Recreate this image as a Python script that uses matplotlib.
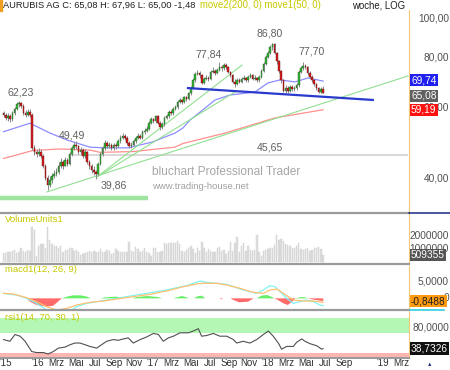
import matplotlib
matplotlib.use("Agg")
import matplotlib.pyplot as plt
import pandas as pd
from matplotlib.transforms import blended_transform_factory
from matplotlib.patches import Rectangle
from matplotlib.lines import Line2D

plt.rcParams['font.family'] = ['Liberation Sans', 'DejaVu Sans']

# ---------------- data (weekly, week 0 = 2015-09-14) ----------------
start_date = "2015-09-14"
opens = [58.0, 57.5,
         56.5, 57, 56, 58, 59.5, 61, 61.5, 60.5, 58, 57.5,
         58.5, 57.5, 47.5, 46.5, 46, 46.5, 45.5, 43, 40, 38.5,
         39.5, 40.5, 41, 41.5, 43, 44, 43, 44.5, 43.5, 46,
         47.5, 48.5, 48, 46.5, 47, 45.5, 46.5, 44, 43, 42,
         41.5, 41, 43.5, 46, 47.5, 49, 48, 48.5, 47.5, 48.5,
         48, 49.5, 50.5, 51, 50.5, 49, 48, 48.5, 49.5, 50.5,
         51, 50.5, 52, 52.5, 53, 55, 56, 55.5, 57, 55,
         53.5, 54.5, 56.5, 57, 58.5, 58, 59.5, 60, 62, 62.5,
         62, 63.5, 63, 65, 67, 70, 72.5, 73, 72, 69,
         70.5, 71, 70.5, 73.5, 74, 73, 74.5, 75.5, 75, 76.5,
         75.5, 73.5, 72, 69.5, 68.5, 70, 69.5, 70.5, 71, 70,
         71.5, 72, 70.5, 71, 70, 71.5, 74, 77, 80, 82,
         84.5, 86, 82, 78, 74, 70, 66, 67, 66, 67.5,
         66.5, 67, 68, 73.5, 75, 76, 75.5, 73, 71.5, 70,
         68.5, 67, 65.5, 66.5]
closes = [57.5, 56.5,
          57, 56, 58, 59.5, 61, 61.5, 60.5, 58, 57.5, 58.5,
          57.5, 47.5, 46.5, 46, 46.5, 45.5, 43, 40, 38.5, 39.5,
          40.5, 41, 41.5, 43, 44, 43, 44.5, 43.5, 46, 47.5,
          48.5, 48, 46.5, 47, 45.5, 46.5, 44, 43, 42, 41.5,
          41, 43.5, 46, 47.5, 49, 48, 48.5, 47.5, 48.5, 48,
          49.5, 50.5, 51, 50.5, 49, 48, 48.5, 49.5, 50.5, 51,
          50.5, 52, 52.5, 53, 55, 56, 55.5, 57, 55, 53.5,
          54.5, 56.5, 57, 58.5, 58, 59.5, 60, 62, 62.5, 62,
          63.5, 63, 65, 67, 70, 72.5, 73, 72, 69, 70.5,
          71, 70.5, 73.5, 74, 73, 74.5, 75.5, 75, 76.5, 75.5,
          73.5, 72, 69.5, 68.5, 70, 69.5, 70.5, 71, 70, 71.5,
          72, 70.5, 71, 70, 71.5, 74, 77, 80, 82, 84.5,
          86, 82, 78, 74, 70, 66, 67, 66, 67.5, 66.5,
          67, 68, 73.5, 75, 76, 75.5, 73, 71.5, 70, 68.5,
          67, 65.5, 66.5, 65.08]
highs = [58.8, 58.0,
         58.0, 57.8, 58.8, 60.2, 61.8, 62.23, 62.0, 61.0, 59.0, 59.3,
         59.5, 58.0, 48.5, 47.3, 47.5, 47.2, 46.0, 43.5, 40.8, 40.5,
         41.2, 42.0, 42.5, 43.8, 44.8, 44.5, 45.2, 45.0, 46.5, 48.2,
         49.2, 49.49, 48.5, 47.8, 47.5, 47.2, 46.8, 44.5, 43.5, 42.8,
         42.0, 44.0, 46.5, 48.2, 49.8, 49.5, 49.2, 49.0, 49.0, 49.0,
         50.2, 51.3, 51.8, 51.5, 51.0, 49.5, 49.2, 50.0, 51.0, 51.8,
         51.5, 52.8, 53.2, 53.8, 55.6, 56.8, 56.5, 57.6, 57.3, 55.5,
         55.2, 57.0, 57.8, 59.2, 59.0, 60.2, 60.8, 62.6, 63.3, 63.0,
         64.2, 64.0, 65.6, 67.8, 70.8, 73.5, 74.5, 73.8, 72.5, 71.5,
         72.0, 71.8, 74.5, 75.5, 74.8, 75.3, 77.84, 76.5, 77.5, 77.2,
         76.0, 74.0, 72.5, 70.5, 70.8, 71.0, 71.5, 72.0, 71.5, 72.3,
         73.0, 72.5, 72.0, 71.5, 72.2, 74.8, 77.8, 80.8, 83.0, 85.5,
         86.8, 86.5, 82.5, 78.5, 74.5, 70.5, 68.0, 67.8, 68.3, 68.0,
         67.8, 68.8, 74.2, 76.0, 77.7, 76.8, 76.0, 73.8, 72.0, 70.5,
         69.0, 67.5, 67.3, 67.96]
lows = [56.8, 55.8,
        55.5, 55.2, 55.6, 57.5, 59.0, 60.3, 59.8, 57.5, 56.8, 57.0,
        56.8, 47.0, 45.8, 45.2, 45.5, 44.8, 42.5, 39.5, 37.4, 38.0,
        39.0, 40.0, 40.6, 41.0, 42.5, 42.3, 42.8, 42.8, 43.2, 45.5,
        47.0, 47.3, 46.0, 46.0, 45.0, 45.0, 43.5, 42.3, 41.3, 40.8,
        39.86, 40.8, 43.2, 45.5, 47.0, 47.5, 47.5, 47.0, 47.0, 47.3,
        47.8, 49.0, 50.0, 49.8, 48.5, 47.5, 47.5, 48.0, 49.0, 50.2,
        50.0, 50.2, 51.5, 52.0, 52.8, 54.5, 54.8, 55.0, 54.5, 52.8,
        53.0, 54.0, 56.0, 56.6, 57.3, 57.5, 59.0, 59.5, 61.5, 61.2,
        61.5, 62.3, 62.5, 64.5, 66.5, 69.5, 72.0, 71.0, 68.5, 68.5,
        70.0, 69.8, 70.0, 73.0, 72.0, 72.5, 74.0, 74.0, 74.5, 74.8,
        73.0, 71.3, 68.8, 67.5, 68.0, 68.8, 69.0, 70.0, 69.3, 69.5,
        71.0, 70.0, 70.0, 69.3, 69.5, 71.0, 73.5, 76.5, 79.5, 81.5,
        83.5, 81.5, 77.0, 73.0, 69.0, 65.5, 65.3, 65.2, 65.5, 65.8,
        66.0, 66.3, 67.5, 73.0, 74.5, 74.8, 72.3, 71.0, 69.3, 67.8,
        66.3, 65.0, 65.0, 65.0]
volume_mio = [0.64, 0.64, 0.77, 0.77, 0.82, 0.92, 0.64, 0.77, 1.03, 0.82,
              0.72, 0.87, 0.82, 2.69, 2.44, 0.46, 1.23, 1.36, 1.33, 1.03,
              2.69, 1.67, 1.33, 1.21, 1.23, 1.08, 1.21, 0.77, 0.90, 0.92,
              1.03, 1.08, 0.82, 0.90, 0.72, 0.51, 0.62, 0.64, 0.77, 0.82,
              0.77, 0.82, 0.77, 0.77, 0.97, 0.77, 0.77, 0.90, 0.79, 0.62,
              0.64, 0.97, 0.82, 0.77, 0.72, 0.77, 0.72, 1.49, 0.79, 0.77,
              1.15, 0.97, 0.72, 0.82, 1.05, 0.77, 0.64, 0.44, 1.03, 1.03,
              0.77, 0.72, 0.82, 1.41, 1.36, 1.41, 1.41, 1.46, 1.41, 1.59,
              1.33, 0.82, 0.77, 0.87, 1.03, 1.21, 0.97, 0.64, 1.03, 0.82,
              1.49, 1.03, 0.77, 0.97, 0.82, 0.77, 0.72, 1.03, 1.13, 0.82,
              0.90, 0.62, 0.82, 1.54, 0.82, 1.41, 1.92, 0.77, 1.23, 1.41,
              0.82, 1.23, 0.92, 0.82, 0.87, 2.05, 0.77, 0.46, 0.82, 0.90,
              1.00, 1.03, 1.08, 1.28, 2.05, 1.67, 1.74, 1.59, 1.33, 1.31,
              1.23, 1.08, 1.03, 1.18, 1.41, 0.97, 0.92, 0.95, 1.03, 0.82,
              0.92, 1.08, 1.08, 1.13, 0.97, 0.509]

# moving averages (week, value)
ma50_weeks = [0, 12.0, 21.1, 28.8, 39.2, 46.1, 56.5, 67.4, 77.8, 81.4, 84.6, 89.2,
              96.0, 102.8, 114.1, 120.0, 125.5, 132.3, 138.2, 145]
ma50_vals = [52.2, 54.8, 51.8, 49.8, 47.8, 47.6, 47.6, 49.2, 51.8, 53.3, 55.8, 58.4,
             62.6, 64.4, 65.5, 69.0, 70.2, 69.4, 71.0, 69.74]
ma200_weeks = [0, 13.4, 25.6, 39.2, 43.8, 58.8, 77.8, 81.4, 100.5, 123.2, 145]
ma200_vals = [44.8, 46.9, 47.3, 47.0, 46.4, 46.6, 47.8, 48.8, 51.8, 56.5, 59.19]

# trend lines: (week0, price0, week1, price1)
green_lines = [(19.7, 37.0, 183.5, 71.8),
               (42.4, 40.3, 108.2, 76.4),
               (42.4, 40.3, 105.0, 65.5)]
blue_line = (83.7, 67.0, 167.6, 62.6)
support_band = (-1.6, 65.6, 35.8)
level_line = (31.0, 183.0, 45.65)

# price annotations (week, price, text)
annotations = [(7.9, 65.5, "62,23"), (93.2, 81.4, "77,84"), (120.9, 91.3, "86,80"),
               (140.0, 82.8, "77,70"), (31.1, 51.2, "49,49"), (50.1, 38.3, "39,86"),
               (120.9, 47.6, "45,65")]

# MACD
macd_weeks = [0, 2.9, 6.0, 10.5, 15.0, 19.6, 22.6, 28.7, 33.2, 37.7, 42.3, 46.8, 51.4,
              55.9, 60.4, 65.0, 69.5, 74.0, 78.6, 83.1, 86.1, 89.2, 92.2, 96.7, 101.3,
              104.3, 107.3, 111.8, 114.9, 117.9, 120.9, 123.2, 125.5, 128.5, 131.5,
              134.5, 137.6, 140.6, 143.6, 145.1]
macd_vals = [1.5, 1.2, 1.0, 0.0, -1.5, -3.5, -4.5, -4.5, -2.5, -1.5, -1.0, -0.5, 0.0,
             0.5, 1.0, 1.5, 2.0, 2.5, 3.2, 3.8, 4.5, 5.2, 4.8, 4.5, 4.2,
             3.5, 2.8, 2.0, 1.5, 2.5, 3.8, 3.5, 2.0, 0.0, -1.5,
             -1.0, -0.5, -1.0, -2.0, -2.2]
signal_weeks = [0, 4.5, 10.5, 15.0, 19.6, 24.1, 28.7, 33.2, 39.2, 45.3, 51.4, 58.9, 66.5,
                74.0, 81.6, 89.2, 96.7, 101.3, 107.3, 113.3, 117.9, 120.9, 124.0, 127.0,
                131.5, 136.0, 140.6, 145.1]
signal_vals = [1.5, 1.3, 0.2, -1.0, -2.5, -3.5, -3.0, -2.0, -1.2, -0.8, -0.2, 0.5, 1.2,
               2.2, 3.5, 4.5, 4.5, 4.0, 3.0, 1.8, 1.5, 2.5, 2.8, 1.5,
               -0.5, -0.8, -0.8, -1.2]
hist_weeks = [0, 10.5, 12, 15, 19.6, 22.6, 25.6, 26.5, 28.7, 31.7, 35, 38, 39.5, 44, 46,
              51, 54, 55.5, 58.5, 60, 65, 70, 72, 77, 78.6, 81, 83.5, 84, 86.5, 88, 90,
              91.5, 98, 99, 99.5, 103, 104.3, 107, 111, 113.5, 115, 117, 119.5, 121.5,
              123, 124.5, 127, 129, 131, 132.5, 135, 137, 138, 140, 145.1]
hist_vals = [0, 0, -1.0, -2.0, -2.5, -2.2, -0.5, 0, 0.5, 0.9, 0.9, 0.5, 0, 0, 0.3,
             0.5, 0.2, 0, 0, 0.3, 0.7, 0.4, 0, 0, 0.3, 0.7, 0.2, 0, 0, 0.6, 0.8,
             0, 0, -0.3, 0, 0, -0.5, -1.2, -1.0, 0, 0, 0.8, 1.0, 0.5,
             0, -0.5, -1.5, -2.0, -1.0, 0, 0.4, 0.3, 0, -0.3, -0.85]

# RSI
rsi_weeks = [0, 2.9, 5.2, 7.5, 9.8, 12.8, 15.0, 18.1, 20.3, 22.6, 24.9, 27.9, 30.2, 32.4,
             34.7, 37.0, 39.2, 42.3, 44.5, 46.8, 49.8, 52.1, 54.4, 56.6, 58.9, 62.0,
             65.0, 68.0, 70.3, 72.5, 74.8, 77.1, 80.1, 83.9, 86.1, 88.4, 89.9, 92.2,
             95.2, 98.2, 101.3, 104.3, 105.8, 108.8, 111.8, 114.9, 117.9, 120.2, 122.4,
             124.7, 126.2, 128.5, 131.5, 133.0, 135.3, 136.8, 139.1, 142.1, 144.4, 145]
rsi_vals = [56.7, 53.3, 66.9, 63.5, 53.3, 32.7, 30.7, 30.7, 27.9, 32.7, 39.6, 41.6, 46.4,
            49.8, 49.8, 46.4, 43.0, 39.6, 46.4, 53.3, 56.7, 55.3, 58.0, 60.1, 49.8, 56.7,
            62.1, 69.0, 66.9, 53.3, 60.1, 63.5, 70.3, 70.3, 73.8, 78.5, 63.5, 64.9,
            69.0, 63.5, 63.5, 56.7, 49.8, 53.3, 49.8, 56.7, 66.9, 73.8, 63.5,
            49.8, 37.5, 43.0, 43.0, 51.2, 58.0, 53.3, 48.5, 44.4, 37.5, 38.73]

tick_dates = ["2015-09-21", "2016-01-01", "2016-03-01", "2016-05-01", "2016-07-01",
              "2016-09-01", "2016-11-01", "2017-01-01", "2017-03-01", "2017-05-01",
              "2017-07-01", "2017-09-01", "2017-11-01", "2018-01-01", "2018-03-01",
              "2018-05-01", "2018-07-01", "2018-09-01", "2019-01-01", "2019-03-01"]
tick_labels = ["'15", "'16", "Mrz", "Mai", "Jul", "Sep", "Nov", "'17", "Mrz", "Mai",
               "Jul", "Sep", "Nov", "'18", "Mrz", "Mai", "Jul", "Sep", "'19", "Mrz"]

# ---------------- figure ----------------
W, H = 450, 370
fig = plt.figure(figsize=(W / 100, H / 100), dpi=100)
fig.patch.set_facecolor("white")


def ax_px(x0, y0, x1, y1):
    return fig.add_axes([x0 / W, 1 - y1 / H, (x1 - x0) / W, (y1 - y0) / H])


def fx(px):
    return px / W


def fy(py):
    return 1 - py / H


XLIM = (-1.59, 184.0)
AXC = "#f0c878"
LBL = 7.3

ax = ax_px(0, 10, 409, 213)
axv = ax_px(0, 214, 409, 263)
axm = ax_px(0, 265, 409, 309)
axr = ax_px(0, 311, 409, 357)
for a in (ax, axv, axm, axr):
    a.set_xlim(*XLIM)
    a.set_facecolor("white")
    for s in ("top", "left", "bottom"):
        a.spines[s].set_visible(False)
    a.spines["right"].set_color(AXC)
    a.spines["right"].set_linestyle((0, (1, 1)))
    a.spines["right"].set_linewidth(0.8)
    a.tick_params(left=False, bottom=False, labelleft=False, labelbottom=False,
                  right=False, labelright=False)

# ---- price panel ----
ax.set_yscale("log")
ax.set_ylim(32.8, 104.7)
ax.minorticks_off()
ax.set_yticks([])
n = len(closes)
weeks = list(range(n))
for i in weeks:
    o, c, h, l = opens[i], closes[i], highs[i], lows[i]
    up = c >= o
    ax.vlines(i, l, h, color="#8a8a8a", lw=0.7, zorder=3)
    body_lo, body_hi = min(o, c), max(o, c)
    if body_hi - body_lo < 0.15:
        body_hi = body_lo + 0.15
    ax.bar(i, body_hi - body_lo, bottom=body_lo, width=0.72,
           color="#2fb52f" if up else "#d81c1c",
           edgecolor="#2a5a2a" if up else "#6a1010", linewidth=0.3, zorder=4)

ax.plot(ma200_weeks, ma200_vals, color="#ff8f8f", lw=0.9, zorder=2)
ax.plot(ma50_weeks, ma50_vals, color="#8c8cff", lw=0.9, zorder=2)
for w0, p0, w1, p1 in green_lines:
    ax.plot([w0, w1], [p0, p1], color="#90e090", lw=0.8, zorder=2)
ax.plot([blue_line[0], blue_line[2]], [blue_line[1], blue_line[3]],
        color="#2a3acc", lw=1.6, zorder=5)
ax.plot([support_band[0], support_band[1]], [support_band[2], support_band[2]],
        color="#9fe49f", lw=3.2, solid_capstyle="butt", zorder=2)
ax.plot([level_line[0], level_line[1]], [level_line[2], level_line[2]],
        color="#d8d8d8", lw=1.4, zorder=1)
for w, p, t in annotations:
    ax.text(w, p, t, ha="center", va="center", fontsize=7.6, color="#606060", zorder=6)

ax.text(67.4, 41.5, "bluchart Professional Trader", fontsize=8.6, color="#a6a6a6",
        va="center", ha="left", zorder=1)
ax.text(67.4, 38.1, "www.trading-house.net", fontsize=6.8, color="#a0a0a0",
        va="center", ha="left", zorder=1)

# right axis labels for price panel
tr_p = blended_transform_factory(fig.transFigure, ax.transData)
for v, t in [(100, "100,00"), (80, "80,00"), (60, "60,00"), (40, "40,00")]:
    ax.text(fx(449), v, t, transform=tr_p, ha="right", va="center",
            fontsize=LBL, color="#505050", clip_on=False)
boxes = [(ma50_vals[-1] * 1.005, "69,74", "#2020f0", "white"),
         (closes[-1] * 0.985, "65,08", "#606060", "white"),
         (ma200_vals[-1], "59,19", "#ff1010", "white")]
for v, t, bg, fg in boxes:
    ax.text(fx(411), v, t, transform=tr_p, ha="left", va="center", fontsize=LBL,
            color=fg, clip_on=False, zorder=10,
            bbox=dict(boxstyle="square,pad=0.12", fc=bg, ec="none"))

# ---- volume panel ----
axv.set_ylim(-0.1, 3.67)
axv.bar(weeks, volume_mio, width=0.62, color="#dedede", edgecolor="#cfcfcf",
        linewidth=0.3)
tr_v = blended_transform_factory(fig.transFigure, axv.transData)
axv.text(fx(449), 2.0, "2000000", transform=tr_v, ha="right", va="center",
         fontsize=LBL, color="#505050", clip_on=False)
axv.text(fx(449), 1.0, "1000000", transform=tr_v, ha="right", va="center",
         fontsize=LBL, color="#505050", clip_on=False)
axv.text(fx(411), volume_mio[-1], "509355", transform=tr_v, ha="left", va="center",
         fontsize=LBL, color="white", clip_on=False, zorder=10,
         bbox=dict(boxstyle="square,pad=0.12", fc="#555555", ec="none"))

# ---- MACD panel ----
axm.set_ylim(-3.2, 10.0)
axm.fill_between(hist_weeks, hist_vals, 0, where=[v >= 0 for v in hist_vals],
                 interpolate=True, color="#66ee66", lw=0)
axm.fill_between(hist_weeks, hist_vals, 0, where=[v <= 0 for v in hist_vals],
                 interpolate=True, color="#ff6b6b", lw=0)
axm.plot(macd_weeks, macd_vals, color="#7ff4f4", lw=0.9)
axm.plot(signal_weeks, signal_vals, color="#ffc070", lw=0.9)
tr_m = blended_transform_factory(fig.transFigure, axm.transData)
axm.text(fx(449), 5.0, "5,0000", transform=tr_m, ha="right", va="center",
         fontsize=LBL, color="#505050", clip_on=False)
axm.text(fx(449), 0.0, "0", transform=tr_m, ha="right", va="center",
         fontsize=LBL, color="#505050", clip_on=False)
axm.text(fx(411), -0.85, "-0,8488", transform=tr_m, ha="left", va="center",
         fontsize=LBL, color="#202020", clip_on=False, zorder=10,
         bbox=dict(boxstyle="square,pad=0.12", fc="#ff9a10", ec="none"))

# ---- RSI panel ----
axr.set_ylim(21.8, 114)
axr.axhspan(70, 100, color="#b4f7b4", lw=0)
axr.axhspan(21.8, 30, color="#ffb4b4", lw=0)
axr.plot(rsi_weeks, rsi_vals, color="#505050", lw=0.8)
tr_r = blended_transform_factory(fig.transFigure, axr.transData)
axr.text(fx(449), 80, "80,0000", transform=tr_r, ha="right", va="center",
         fontsize=LBL, color="#505050", clip_on=False)
axr.text(fx(411), rsi_vals[-1], "38,7326", transform=tr_r, ha="left", va="center",
         fontsize=LBL, color="white", clip_on=False, zorder=10,
         bbox=dict(boxstyle="square,pad=0.12", fc="#111111", ec="none"))

# x tick labels (dates) placed through the week scale
t0 = pd.Timestamp(start_date)
tick_pos = [(pd.Timestamp(d) - t0).days / 7.0 for d in tick_dates]
tr_x = blended_transform_factory(axr.transData, fig.transFigure)
for pos, lab in zip(tick_pos, tick_labels):
    axr.text(pos, fy(363.5), lab, transform=tr_x, ha="center", va="center",
             fontsize=7, color="#303030", clip_on=False)

# panel titles
fig.text(fx(5), fy(220), "VolumeUnits1", fontsize=6.8, color="#c8c800", va="center")
fig.text(fx(5), fy(270), "macd1(12, 26, 9)", fontsize=6.8, color="#c8c800", va="center")
fig.text(fx(5), fy(317), "rsi1(14, 70, 30, 1)", fontsize=6.8, color="#c8c800", va="center")

# header
fig.text(fx(3), fy(5), "AURUBIS AG C: 65,08 H: 67,96 L: 65,00 -1,48", fontsize=6.7,
         color="#202020", va="center")
fig.text(fx(200), fy(5), "move2(200, 0) move1(50, 0)", fontsize=6.9,
         color="#c8c800", va="center")
fig.text(fx(352), fy(5), "woche, LOG", fontsize=6.9, color="#202020", va="center")
fig.patches.append(Rectangle((0, fy(11)), fx(2), fy(0) - fy(11), transform=fig.transFigure,
                             color="#f0a020", figure=fig))

# separators
for ypx, col, lw in [(213, "#9a9a9a", 1.6), (264, "#9a9a9a", 1.6),
                     (310, "#9a9a9a", 1.6), (357.5, "#9a9a9a", 1.4)]:
    fig.lines.append(Line2D([0, fx(409)], [fy(ypx), fy(ypx)], transform=fig.transFigure,
                            color=col, lw=lw, figure=fig))
fig.lines.append(Line2D([fx(409), 1], [fy(213), fy(213)], transform=fig.transFigure,
                        color="#2a3a8a", lw=1.2, figure=fig))
fig.lines.append(Line2D([fx(410), fx(444)], [fy(309.5), fy(309.5)],
                        transform=fig.transFigure, color="#30d0e0", lw=1.2, figure=fig))
fig.text(fx(430), fy(364), "\u25b2", fontsize=4, color="#203080", ha="center", va="center")

fig.savefig("out.png", dpi=100)
